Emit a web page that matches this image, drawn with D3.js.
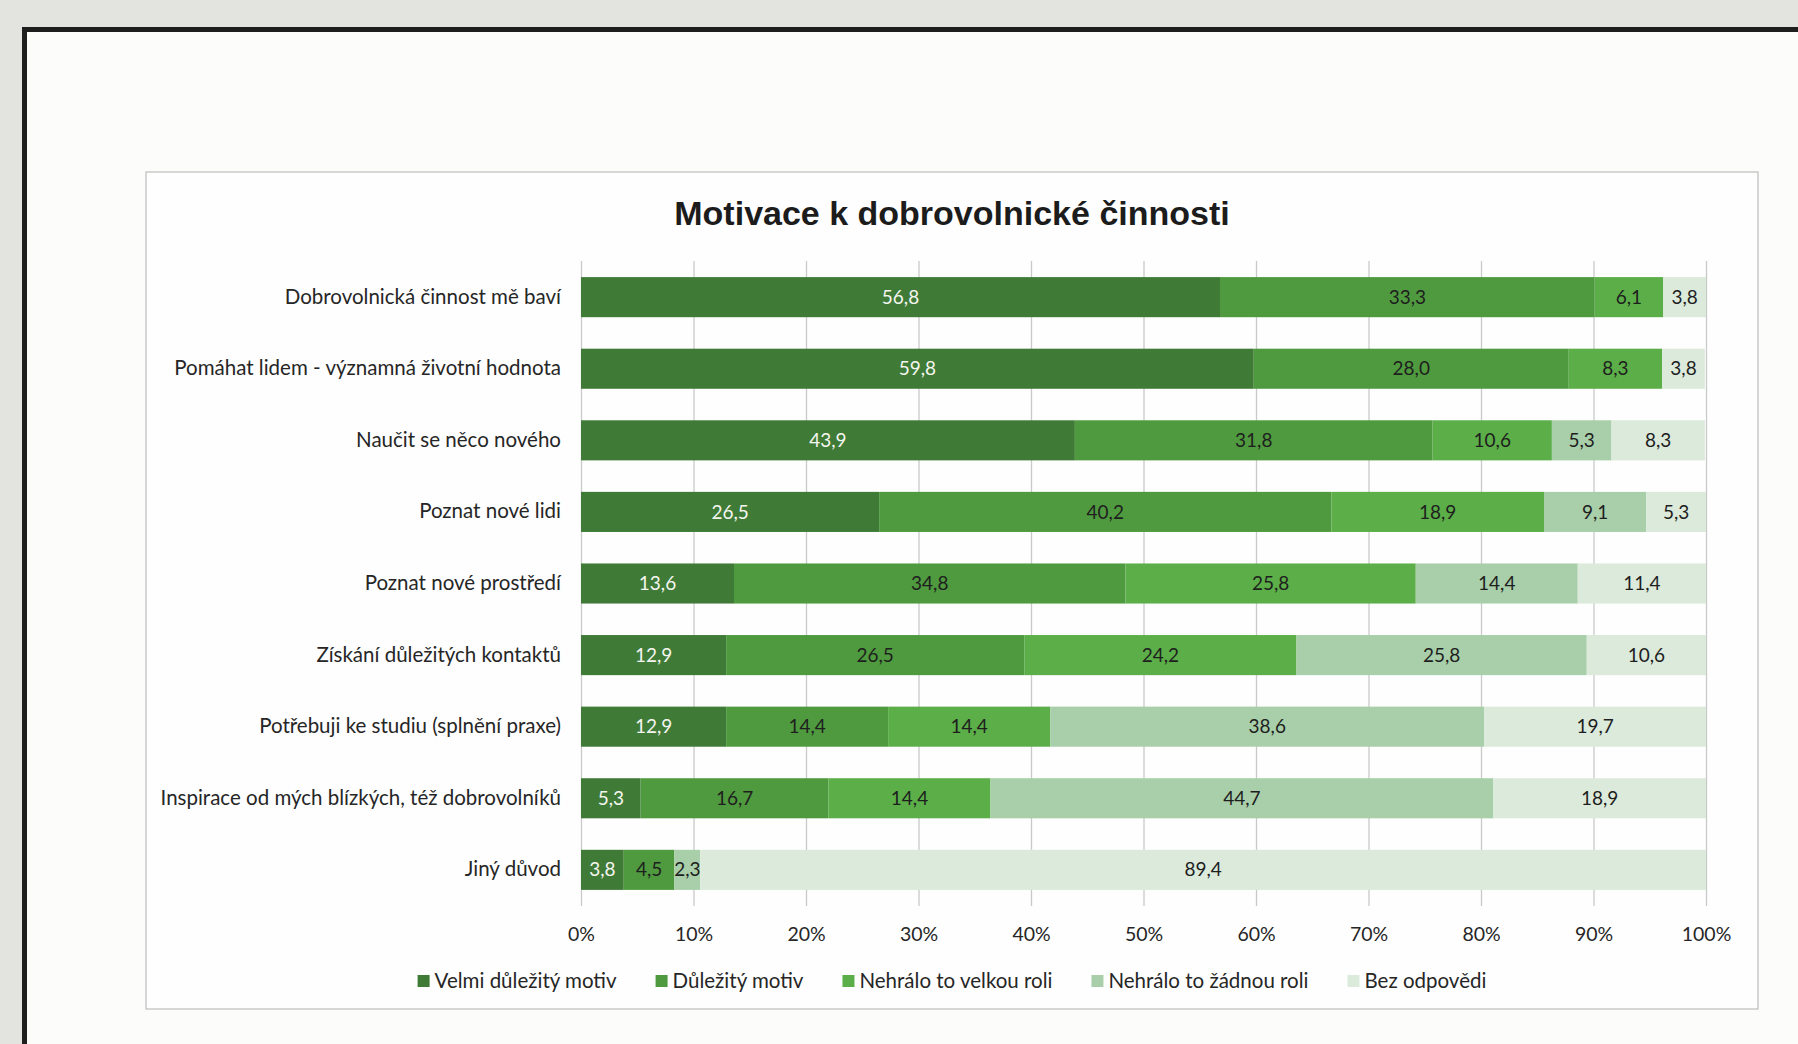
<!DOCTYPE html>
<html>
<head>
<meta charset="utf-8">
<script src="https://cdn.jsdelivr.net/npm/d3@7"></script>
<style>
  body { margin:0; background:#e3e3df; }
  svg { display:block; }
  .cat text, .xaxis text, .legend text { font-family: Lato, "Open Sans", sans-serif; fill:#262626; }
  .title { font-family: "Liberation Sans", Arial, sans-serif; font-weight:bold; fill:#1c1c1c; }
  .val { font-family: Lato, "Open Sans", sans-serif; }
</style>
</head>
<body>
<script>
// data
var categories = [
  "Dobrovolnická činnost mě baví",
  "Pomáhat lidem - významná životní hodnota",
  "Naučit se něco nového",
  "Poznat nové lidi",
  "Poznat nové prostředí",
  "Získání důležitých kontaktů",
  "Potřebuji ke studiu (splnění praxe)",
  "Inspirace od mých blízkých, též dobrovolníků",
  "Jiný důvod"
];
var series = ["Velmi důležitý motiv", "Důležitý motiv", "Nehrálo to velkou roli", "Nehrálo to žádnou roli", "Bez odpovědi"];
var velmi    = [56.8, 59.8, 43.9, 26.5, 13.6, 12.9, 12.9, 5.3, 3.8];
var dulezity = [33.3, 28.0, 31.8, 40.2, 34.8, 26.5, 14.4, 16.7, 4.5];
var velkou   = [6.1, 8.3, 10.6, 18.9, 25.8, 24.2, 14.4, 14.4, 0];
var zadnou   = [0, 0, 5.3, 9.1, 14.4, 25.8, 38.6, 44.7, 2.3];
var bez      = [3.8, 3.8, 8.3, 5.3, 11.4, 10.6, 19.7, 18.9, 89.4];
var tickValues = [0, 10, 20, 30, 40, 50, 60, 70, 80, 90, 100];
var title = "Motivace k dobrovolnické činnosti";

var colors = ["#3f7b37", "#4f9a3f", "#5bae48", "#a8cfa9", "#dbeadb"];
var labelColors = ["#f5f5ef", "#1e1e1e", "#1e1e1e", "#1e1e1e", "#1e1e1e"];

var cols = [velmi, dulezity, velkou, zadnou, bez];
var table = categories.map(function(c, i) {
  var row = {cat: c};
  series.forEach(function(s, j) { row[s] = cols[j][i]; });
  return row;
});

var W = 1798, H = 1044;
var svg = d3.select("body").append("svg")
  .attr("width", W).attr("height", H);

// page: scanned sheet with black border
svg.append("rect").attr("x", 0).attr("y", 0).attr("width", W).attr("height", H).attr("fill", "#e3e3df");
svg.append("rect").attr("x", 22).attr("y", 27).attr("width", W).attr("height", H)
  .attr("fill", "#1e1e1e");
svg.append("rect").attr("x", 27).attr("y", 32).attr("width", W).attr("height", H)
  .attr("fill", "#fcfcfa");

// chart frame
var frame = {left:146, top:172, right:1758, bottom:1009};
svg.append("rect")
  .attr("x", frame.left).attr("y", frame.top)
  .attr("width", frame.right - frame.left).attr("height", frame.bottom - frame.top)
  .attr("fill", "#fefefe").attr("stroke", "#bdbdbd").attr("stroke-width", 1.2);

var cx = (frame.left + frame.right) / 2;

svg.append("text")
  .attr("class", "title")
  .attr("x", cx).attr("y", 225)
  .attr("text-anchor", "middle")
  .style("font-size", "34px")
  .text(title);

// scales
var x0 = 581, x1 = 1706, y0 = 261, y1 = 906;
var xScale = d3.scaleLinear().domain([0, 100]).range([x0, x1]);
var yScale = d3.scaleBand().domain(categories).range([y0, y1])
  .paddingInner(0.44).paddingOuter(0.225);

// gridlines
var grid = svg.append("g")
  .attr("transform", "translate(0," + y1 + ")")
  .call(d3.axisBottom(xScale).tickValues(tickValues).tickSize(-(y1 - y0)).tickFormat(""));
grid.select(".domain").remove();
grid.selectAll("line").attr("stroke", "#c9c9c9").attr("stroke-width", 1.3);

// stacked bars
var stack = d3.stack().keys(series)(table);

var layers = svg.selectAll(".layer")
  .data(stack)
  .enter()
  .append("g")
    .attr("class", "layer")
    .attr("fill", function(d, i) { return colors[i]; });

layers.selectAll("rect")
  .data(function(d) { return d; })
  .enter()
  .append("rect")
    .attr("x", function(d) { return xScale(d[0]); })
    .attr("y", function(d) { return yScale(d.data.cat); })
    .attr("width", function(d) { return xScale(d[1]) - xScale(d[0]); })
    .attr("height", yScale.bandwidth());

// value labels
var fmt = d3.formatLocale({decimal: ",", thousands: " ", grouping: [3], currency: ["", ""]}).format(".1f");

layers.each(function(layer, i) {
  d3.select(this).selectAll("text")
    .data(layer.filter(function(d) { return d[1] - d[0] > 0; }))
    .enter()
    .append("text")
      .attr("class", "val")
      .attr("x", function(d) { return (xScale(d[0]) + xScale(d[1])) / 2; })
      .attr("y", function(d) { return yScale(d.data.cat) + yScale.bandwidth() / 2; })
      .attr("dy", "0.35em")
      .attr("text-anchor", "middle")
      .attr("fill", labelColors[i])
      .style("font-size", "19px")
      .text(function(d) { return fmt(d[1] - d[0]); });
});

// category axis
var cat = svg.append("g")
  .attr("class", "cat")
  .attr("transform", "translate(" + x0 + ",0)")
  .call(d3.axisLeft(yScale).tickSize(0).tickPadding(20));
cat.select(".domain").remove();
cat.selectAll("text").style("font-size", "20.5px");

// x axis labels
var xa = svg.append("g")
  .attr("class", "xaxis")
  .attr("transform", "translate(0," + y1 + ")")
  .call(d3.axisBottom(xScale).tickValues(tickValues).tickSize(0).tickPadding(21)
    .tickFormat(function(d) { return d + "%"; }));
xa.select(".domain").remove();
xa.selectAll("text").style("font-size", "19.5px");

// legend
var legend = svg.append("g").attr("class", "legend");
var items = legend.selectAll("g")
  .data(series)
  .enter()
  .append("g");
items.append("rect")
  .attr("width", 12).attr("height", 12)
  .attr("y", -6)
  .attr("fill", function(d, i) { return colors[i]; });
items.append("text")
  .attr("x", 17)
  .attr("dy", "0.35em")
  .style("font-size", "20.5px")
  .text(function(d) { return d; });

var gap = 39;
var pos = 0;
items.each(function() {
  var w = 17 + d3.select(this).select("text").node().getComputedTextLength();
  d3.select(this).attr("transform", "translate(" + pos + ",0)");
  pos += w + gap;
});
var total = pos - gap;
legend.attr("transform", "translate(" + (cx - total / 2) + ",981)");
</script>
</body>
</html>
